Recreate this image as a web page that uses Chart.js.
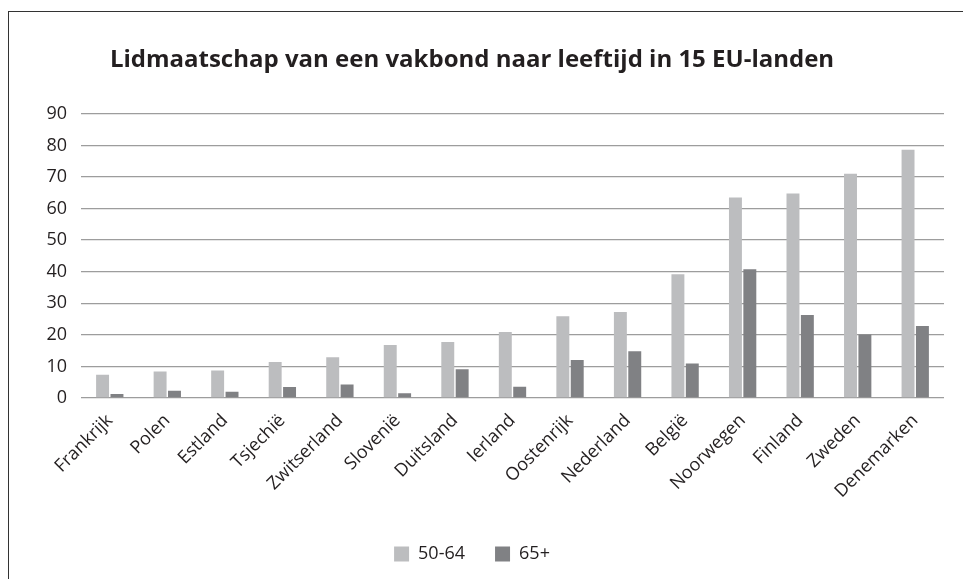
<!DOCTYPE html>
<html>
<head>
    <title>Lidmaatschap vakbond</title>
    <script src="https://cdn.jsdelivr.net/npm/chart.js"></script>
    <style>
        body { margin: 0; background: #fff; }
        #frame { position: absolute; left: 8px; top: 11px; width: 1000px; height: 700px;
                 border-left: 1.5px solid #333; border-top: 1.5px solid #333; }
        #wrap { position: absolute; left: 0; top: 0; width: 963px; height: 579px; }
    </style>
</head>
<body>
    <div id="frame"></div>
    <div id="wrap"><canvas id="vakbond"></canvas></div>

    <script>
        const landen = ['Frankrijk', 'Polen', 'Estland', 'Tsjechië', 'Zwitserland', 'Slovenië', 'Duitsland',
            'Ierland', 'Oostenrijk', 'Nederland', 'België', 'Noorwegen', 'Finland', 'Zweden', 'Denemarken'];
        const leeftijd5064 = [7.4, 8.4, 8.7, 11.4, 12.9, 16.8, 17.7, 20.9, 25.9, 27.2, 39.2, 63.5, 64.8, 71.0, 78.6];
        const leeftijd65plus = [1.3, 2.3, 2.0, 3.5, 4.3, 1.5, 9.1, 3.6, 12.0, 14.8, 10.9, 40.8, 26.3, 20.1, 22.8];

        const textColor = '#231f20';
        const fontFam = '"Open Sans", sans-serif';

        const ctx = document.getElementById('vakbond').getContext('2d');
        const chart = new Chart(ctx, {
            type: 'bar',
            data: {
                labels: landen,
                datasets: [
                    { label: '50-64', data: leeftijd5064, backgroundColor: '#bcbdbf' },
                    { label: '65+', data: leeftijd65plus, backgroundColor: '#808184' }
                ]
            },
            options: {
                responsive: true,
                maintainAspectRatio: false,
                animation: false,
                datasets: { bar: { categoryPercentage: 0.5, barPercentage: 0.9 } },
                layout: { padding: { left: 0, right: 19, top: 0, bottom: 6 } },
                plugins: {
                    title: {
                        display: true,
                        text: 'Lidmaatschap van een vakbond naar leeftijd in 15 EU-landen',
                        color: textColor,
                        font: { family: fontFam, size: 24, weight: 'bold' },
                        padding: { top: 45.6, bottom: 39.4 }
                    },
                    legend: {
                        position: 'bottom',
                        labels: {
                            color: textColor,
                            font: { family: fontFam, size: 18 },
                            boxWidth: 15, boxHeight: 15,
                            padding: 30
                        }
                    },
                    tooltip: { enabled: false }
                },
                scales: {
                    x: {
                        afterFit: (scale) => { scale.height = 117; },
                        grid: { display: false },
                        border: { display: false },
                        ticks: {
                            color: textColor,
                            font: { family: fontFam, size: 18 },
                            maxRotation: 45, minRotation: 45,
                            padding: 4
                        }
                    },
                    y: {
                        min: 0, max: 90,
                        afterFit: (scale) => { scale.width = 81; },
                        grid: { color: '#9d9d9d', lineWidth: 1.3, drawTicks: false },
                        border: { display: false },
                        ticks: {
                            stepSize: 10,
                            color: textColor,
                            font: { family: fontFam, size: 18 },
                            padding: 14
                        }
                    }
                }
            }
        });
    </script>
</body>
</html>
